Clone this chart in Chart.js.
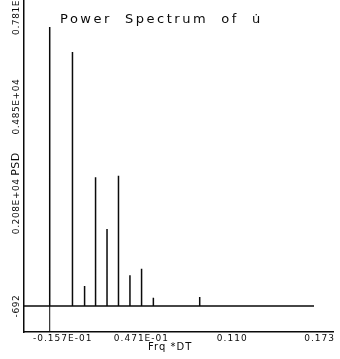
<!DOCTYPE html>
<html lang="en">
<head>
  <meta charset="UTF-8">
  <title>Power Spectrum of u</title>
  <script src="https://cdn.jsdelivr.net/npm/chart.js"></script>
  <style>
    html, body { margin: 0; padding: 0; background: #fff; }
  </style>
</head>
<body>
  <canvas id="psdChart" width="340" height="359"></canvas>

  <script>
    // Spectral peaks (Frq*DT, PSD)
    const peakFreq = [0, 0.0139, 0.0213, 0.0280, 0.0350, 0.0420, 0.0490, 0.0561, 0.0633, 0.0916];
    const peakPsd = [7059, 6364, -136, 2883, 1447, 2928, 161, 344, -461, -442];

    // Floor level of the trace and where it ends
    const floorPsd = -692;
    const traceEnd = 0.1614;

    // Axis ranges
    const freqRange = [-0.0157, 0.173];
    const psdRange = [-1414, 7810];

    // Tick labels as printed on the plot
    const xTickValues = [-0.0157, 0.0471, 0.110, 0.173];
    const xTickLabels = ['-0.157E-01', '0.471E-01', '0.110', '0.173'];
    const yTickValues = [-692, 2080, 4850, 7810];
    const yTickLabels = ['-692', '0.208E+04', '0.485E+04', '0.781E+04'];

    // Build the spike trace: floor -> peak -> floor at each frequency
    const trace = [{ x: freqRange[0], y: floorPsd }];
    peakFreq.forEach((f, i) => {
      trace.push({ x: f, y: floorPsd }, { x: f, y: peakPsd[i] }, { x: f, y: floorPsd });
    });
    trace.push({ x: traceEnd, y: floorPsd });

    // zero-frequency line down to the axis
    const zeroLine = [{ x: 0, y: psdRange[0] }, { x: 0, y: floorPsd }];

    const ink = '#0a0a0a';

    // Draws the plotter style labels (rotated y labels, title, axis names)
    const plotText = {
      id: 'plotText',
      afterDraw(chart) {
        const { ctx } = chart;
        const xs = chart.scales.x;
        const ys = chart.scales.y;
        ctx.save();
        ctx.fillStyle = ink;

        // title
        ctx.font = '13px "DejaVu Sans"';
        ctx.letterSpacing = '2.5px';
        ctx.textAlign = 'left';
        ctx.textBaseline = 'alphabetic';
        ctx.fillText('Power  Spectrum  of  u\u0307', 60, 23);

        // x tick labels
        ctx.font = '9px "DejaVu Sans"';
        ctx.letterSpacing = '1px';
        ctx.textBaseline = 'top';
        xTickValues.forEach((v, i) => {
          const px = xs.getPixelForValue(v);
          if (i === 0) {
            ctx.textAlign = 'left';
            ctx.fillText(xTickLabels[i], px + 9, 334);
          } else if (i === xTickValues.length - 1) {
            ctx.textAlign = 'right';
            ctx.fillText(xTickLabels[i], px + 2, 334);
          } else {
            ctx.textAlign = 'left';
            ctx.fillText(xTickLabels[i], px - 13, 334);
          }
        });

        // x axis name
        ctx.font = '10px "DejaVu Sans"';
        ctx.textAlign = 'left';
        ctx.fillText('Frq *DT', 148, 342);

        // y tick labels, rotated
        ctx.font = '9px "DejaVu Sans"';
        ctx.letterSpacing = '0.6px';
        ctx.textAlign = 'center';
        ctx.textBaseline = 'middle';
        yTickValues.forEach((v, i) => {
          const py = Math.max(ys.getPixelForValue(v), 7);
          ctx.save();
          ctx.translate(16.5, py);
          ctx.rotate(-Math.PI / 2);
          ctx.fillText(yTickLabels[i], 0, 0);
          ctx.restore();
        });

        // y axis name
        ctx.font = '11px "DejaVu Sans"';
        ctx.letterSpacing = '0.5px';
        ctx.save();
        ctx.translate(16.5, 164);
        ctx.rotate(-Math.PI / 2);
        ctx.fillText('PSD', 0, 0);
        ctx.restore();

        ctx.restore();
      }
    };

    const ctx = document.getElementById('psdChart').getContext('2d');
    const psdChart = new Chart(ctx, {
      type: 'line',
      data: {
        datasets: [
          {
            data: trace,
            borderColor: ink,
            borderWidth: 1.5,
            pointRadius: 0,
            tension: 0
          },
          {
            data: zeroLine,
            borderColor: ink,
            borderWidth: 1,
            pointRadius: 0
          }
        ]
      },
      options: {
        responsive: false,
        devicePixelRatio: 1,
        animation: false,
        layout: {
          padding: { left: 24, right: 7, top: 0, bottom: 27 }
        },
        scales: {
          x: {
            type: 'linear',
            min: freqRange[0],
            max: freqRange[1],
            ticks: { display: false },
            grid: { display: false, drawTicks: false },
            border: { display: true, color: ink, width: 1.5 }
          },
          y: {
            min: psdRange[0],
            max: psdRange[1],
            ticks: { display: false },
            grid: { display: false, drawTicks: false },
            border: { display: true, color: ink, width: 1.5 }
          }
        },
        plugins: {
          legend: { display: false },
          tooltip: { enabled: false },
          title: { display: false }
        }
      },
      plugins: [plotText]
    });
  </script>
</body>
</html>
